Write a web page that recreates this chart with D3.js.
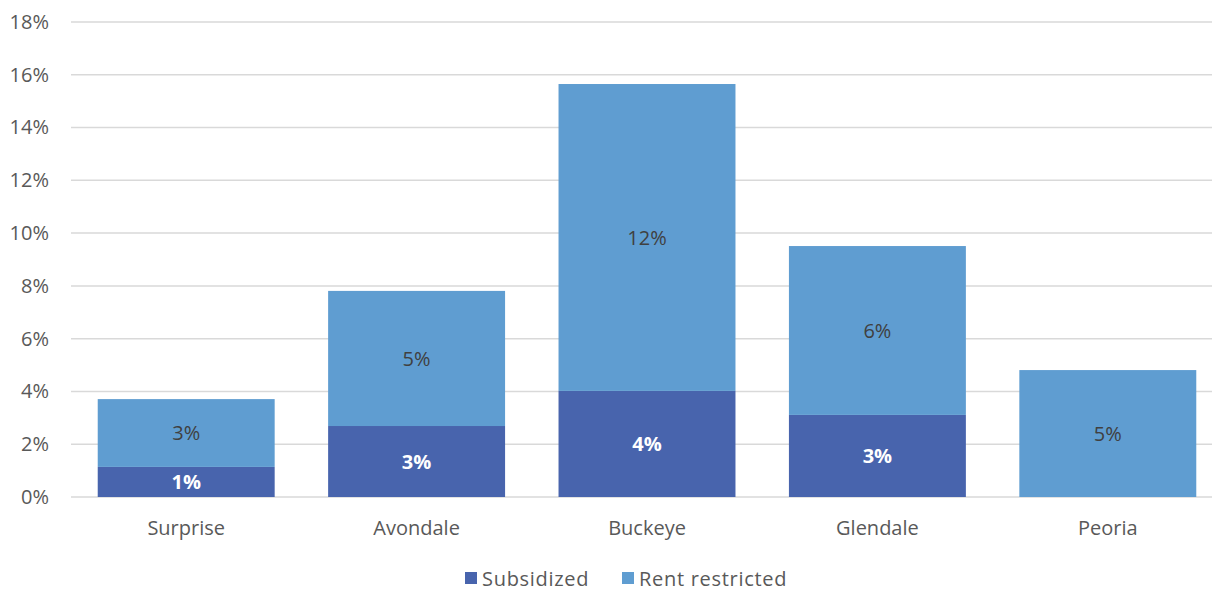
<!DOCTYPE html>
<html><head><meta charset="utf-8">
<script src="https://cdn.jsdelivr.net/npm/d3@7"></script>
<style>body{margin:0;background:#fff}svg{display:block}text{font-family:"Open Sans","Noto Sans",sans-serif}</style>
</head><body><svg id="c" width="1214" height="592"></svg>
<script>
const categories = ["Surprise","Avondale","Buckeye","Glendale","Peoria"];
const subsidized = [1.14, 2.69, 4.02, 3.11, 0];
const rentRestricted = [2.57, 5.12, 11.63, 6.40, 4.81];
const subLabels = ["1%","3%","4%","3%",""];
const rentLabels = ["3%","5%","12%","6%","5%"];
const yTicks = [0,2,4,6,8,10,12,14,16,18];
const seriesNames = ["Subsidized","Rent restricted"];
const colors = ["#4864AD","#5F9DD1"];

const svg = d3.select("#c");
const x = d3.scaleBand().domain(categories).range([71,1223]).paddingInner(0.232).paddingOuter(0.116);
const y = d3.scaleLinear().domain([0,18]).range([497,22]);

svg.append("g").selectAll("line").data(yTicks).join("line")
  .attr("x1",71).attr("x2",1212).attr("y1",d=>y(d)).attr("y2",d=>y(d))
  .attr("stroke","#D9D9D9").attr("stroke-width",1.5);

const yAxis = d3.axisLeft(y).tickValues(yTicks).tickFormat(d=>d+"%").tickSize(0).tickPadding(22);
const ga = svg.append("g").attr("transform","translate(71,0)").call(yAxis);
ga.select(".domain").remove();
ga.selectAll("text").attr("font-size",20).attr("fill","#595959");

const xAxis = d3.axisBottom(x).tickSize(0).tickPadding(24);
const gx = svg.append("g").attr("transform","translate(0,497)").call(xAxis);
gx.select(".domain").remove();
gx.selectAll("text").attr("font-size",20).attr("fill","#595959");

const data = categories.map((c,i)=>({c, s:subsidized[i], r:rentRestricted[i], sl:subLabels[i], rl:rentLabels[i]}));
const g = svg.append("g");
g.selectAll("rect.s").data(data).join("rect").attr("class","s")
  .attr("x",d=>x(d.c)).attr("width",x.bandwidth())
  .attr("y",d=>y(d.s)).attr("height",d=>y(0)-y(d.s)).attr("fill",colors[0]);
g.selectAll("rect.r").data(data).join("rect").attr("class","r")
  .attr("x",d=>x(d.c)).attr("width",x.bandwidth())
  .attr("y",d=>y(d.s+d.r)).attr("height",d=>y(d.s)-y(d.s+d.r)).attr("fill",colors[1]);
g.selectAll("text.s").data(data).join("text").attr("class","s")
  .attr("x",d=>x(d.c)+x.bandwidth()/2).attr("y",d=>y(d.s/2)).attr("dy","0.36em")
  .attr("text-anchor","middle").attr("font-size",20).attr("font-weight","bold").attr("fill","#fff")
  .text(d=>d.sl);
g.selectAll("text.r").data(data).join("text").attr("class","r")
  .attr("x",d=>x(d.c)+x.bandwidth()/2).attr("y",d=>y(d.s+d.r/2)).attr("dy","0.36em")
  .attr("text-anchor","middle").attr("font-size",20).attr("fill","#404040")
  .text(d=>d.rl);

const lg = svg.append("g").attr("transform","translate(465,586)");
const items = [{n:seriesNames[0],c:colors[0],x:0},{n:seriesNames[1],c:colors[1],x:157}];
items.forEach(it=>{
  lg.append("rect").attr("x",it.x).attr("y",-14).attr("width",12).attr("height",12).attr("fill",it.c);
  lg.append("text").attr("x",it.x+17).attr("y",0).attr("font-size",20).attr("letter-spacing","0.7px").attr("fill","#595959").text(it.n);
});
</script></body></html>
